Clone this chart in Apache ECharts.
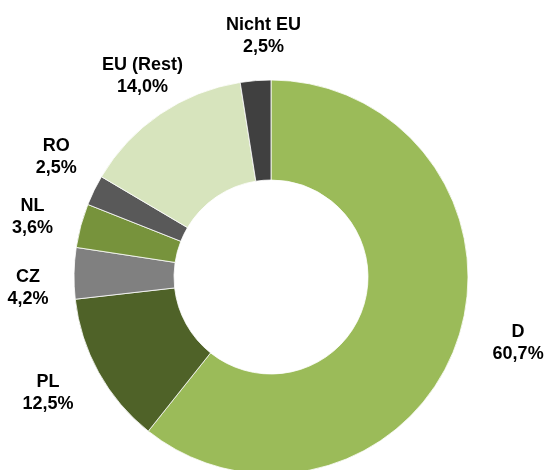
<!DOCTYPE html>
<html>
<head>
<meta charset="utf-8">
<script src="https://cdn.jsdelivr.net/npm/echarts@6/dist/echarts.min.js"></script>
<style>html,body{margin:0;padding:0;background:#fff}#c{width:550px;height:470px}</style>
</head>
<body>
<div id="c"></div>
<script>
var categories = ['D', 'PL', 'CZ', 'NL', 'RO', 'EU (Rest)', 'Nicht EU'];
var values = [60.7, 12.5, 4.2, 3.6, 2.5, 14.0, 2.5];
var colors = ['#9BBB59', '#4F6228', '#808080', '#77933C', '#595959', '#D7E4BD', '#404040'];
// label nudges (layout only)
var labelOffsets = [[13, -16], [-6, -4], [5, 16], [1, 5], [8, -11], [11, 4], [12, 6]];

var ringData = categories.map(function (c, i) {
  return { name: c, value: values[i], itemStyle: { color: colors[i] } };
});
var labelData = categories.map(function (c, i) {
  return { name: c, value: values[i], label: { offset: labelOffsets[i] } };
});

var chart = echarts.init(document.getElementById('c'), null, { renderer: 'canvas' });
chart.setOption({
  animation: false,
  backgroundColor: '#fff',
  series: [
    {
      type: 'pie',
      center: [271, 277],
      radius: [97, 197],
      startAngle: 90,
      clockwise: true,
      label: { show: false },
      labelLine: { show: false },
      itemStyle: { borderColor: '#fff', borderWidth: 0.8 },
      emphasis: { disabled: true },
      data: ringData
    },
    {
      type: 'pie',
      center: [271, 277],
      radius: [240, 250],
      startAngle: 90,
      clockwise: true,
      silent: true,
      itemStyle: { color: 'rgba(0,0,0,0)' },
      labelLine: { show: false },
      label: {
        show: true,
        position: 'inside',
        fontFamily: 'Liberation Sans, Arial, sans-serif',
        fontWeight: 'bold',
        fontSize: 18,
        lineHeight: 22,
        color: '#000',
        align: 'center',
        formatter: function (p) {
          return p.name + '\n' + p.value.toFixed(1).replace('.', ',') + '%';
        }
      },
      emphasis: { disabled: true },
      data: labelData
    }
  ]
});
</script>
</body>
</html>
